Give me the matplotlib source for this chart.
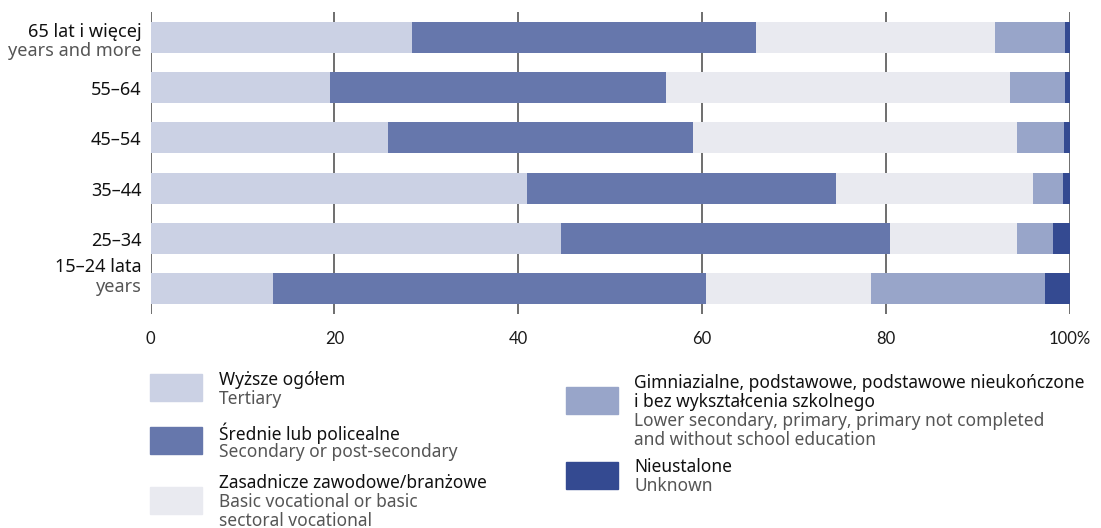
import matplotlib
matplotlib.use("Agg")
import matplotlib.pyplot as plt
from matplotlib.patches import Rectangle
import matplotlib.transforms as mtransforms

plt.rcParams['font.family'] = ['Noto Sans', 'DejaVu Sans']

# data (percent), top to bottom
groups = ["65+", "55-64", "45-54", "35-44", "25-34", "15-24"]
tertiary = [28.4, 19.5, 25.8, 41.0, 44.6, 13.3]
secondary = [37.4, 36.6, 33.2, 33.5, 35.8, 47.1]
basic_voc = [26.0, 37.4, 35.2, 21.5, 13.8, 18.0]
lower_sec = [7.7, 6.0, 5.2, 3.2, 4.0, 18.9]
unknown = [0.5, 0.5, 0.6, 0.8, 1.8, 2.7]

series = [tertiary, secondary, basic_voc, lower_sec, unknown]
colors = ["#cbd1e4", "#6677ac", "#e9eaf0", "#98a5c9", "#344a91"]

# y labels: (polish line, english line)
ylab_pl = ["65 lat i więcej", "55–64", "45–54", "35–44", "25–34", "15–24 lata"]
ylab_en = ["years and more", "", "", "", "", "years"]

leg_pl = [["Wyższe ogółem"], ["Średnie lub policealne"], ["Zasadnicze zawodowe/branżowe"],
          ["Gimniazialne, podstawowe, podstawowe nieukończone", "i bez wykształcenia szkolnego"],
          ["Nieustalone"]]
leg_en = [["Tertiary"], ["Secondary or post-secondary"], ["Basic vocational or basic", "sectoral vocational"],
          ["Lower secondary, primary, primary not completed", "and without school education"],
          ["Unknown"]]

W, H = 1101, 528
fig = plt.figure(figsize=(W / 100, H / 100), dpi=100)
ax = fig.add_axes([150.5 / W, 1 - 314 / H, (1070 - 150.5) / W, (314 - 12) / H])

ypos = list(range(len(groups)))
left = [0.0] * len(groups)
for vals, c in zip(series, colors):
    ax.barh(ypos, vals, left=left, height=0.615, color=c, zorder=2)
    left = [l + v for l, v in zip(left, vals)]

ax.set_xlim(0, 100)
ax.set_ylim(5.5, -0.5)
ax.set_xticks([0, 20, 40, 60, 80, 100])
ax.set_xticklabels(["0", "20", "40", "60", "80", "100%"], fontsize=12, family=['Lato', 'DejaVu Sans'])
ax.set_yticks([])
ax.tick_params(axis='x', length=0, pad=12, colors="#1a1a1a")
for s in ax.spines.values():
    s.set_visible(False)
ax.grid(axis='x', color="#555555", linewidth=1.2, zorder=0)
ax.set_axisbelow(True)

trans = mtransforms.blended_transform_factory(ax.transAxes, ax.transData)
lx = -9 / (1070 - 150.5)
for i, (pl, en) in enumerate(zip(ylab_pl, ylab_en)):
    if en:
        off1, off2 = (-0.11, 0.27) if i == 0 else (-0.43, -0.03)
        ax.text(lx, i + off1, pl, transform=trans, ha='right', va='center',
                fontsize=13, color="#111111")
        ax.text(lx, i + off2, en, transform=trans, ha='right', va='center',
                fontsize=13, color="#555555")
    else:
        ax.text(lx, i + 0.05, pl, transform=trans, ha='right', va='center',
                fontsize=13, color="#111111")

# legend, drawn by hand in pixel positions
sw = [(150, 374), (150, 427), (150, 487), (566, 387), (566, 462)]
tx = [219, 219, 219, 634, 634]
ty = [380, 433, 483, 383, 467]
step = 19
for k in range(5):
    x0, y0 = sw[k]
    fig.patches.append(Rectangle((x0 / W, 1 - (y0 + 27) / H), 52 / W, 27 / H,
                                 transform=fig.transFigure, color=colors[k]))
    y = ty[k]
    for line in leg_pl[k]:
        fig.text(tx[k] / W, 1 - y / H, line, ha='left', va='center', fontsize=12.5, color="#111111")
        y += step
    for line in leg_en[k]:
        fig.text(tx[k] / W, 1 - y / H, line, ha='left', va='center', fontsize=12.5, color="#555555")
        y += step

fig.savefig("out.png", dpi=100)
